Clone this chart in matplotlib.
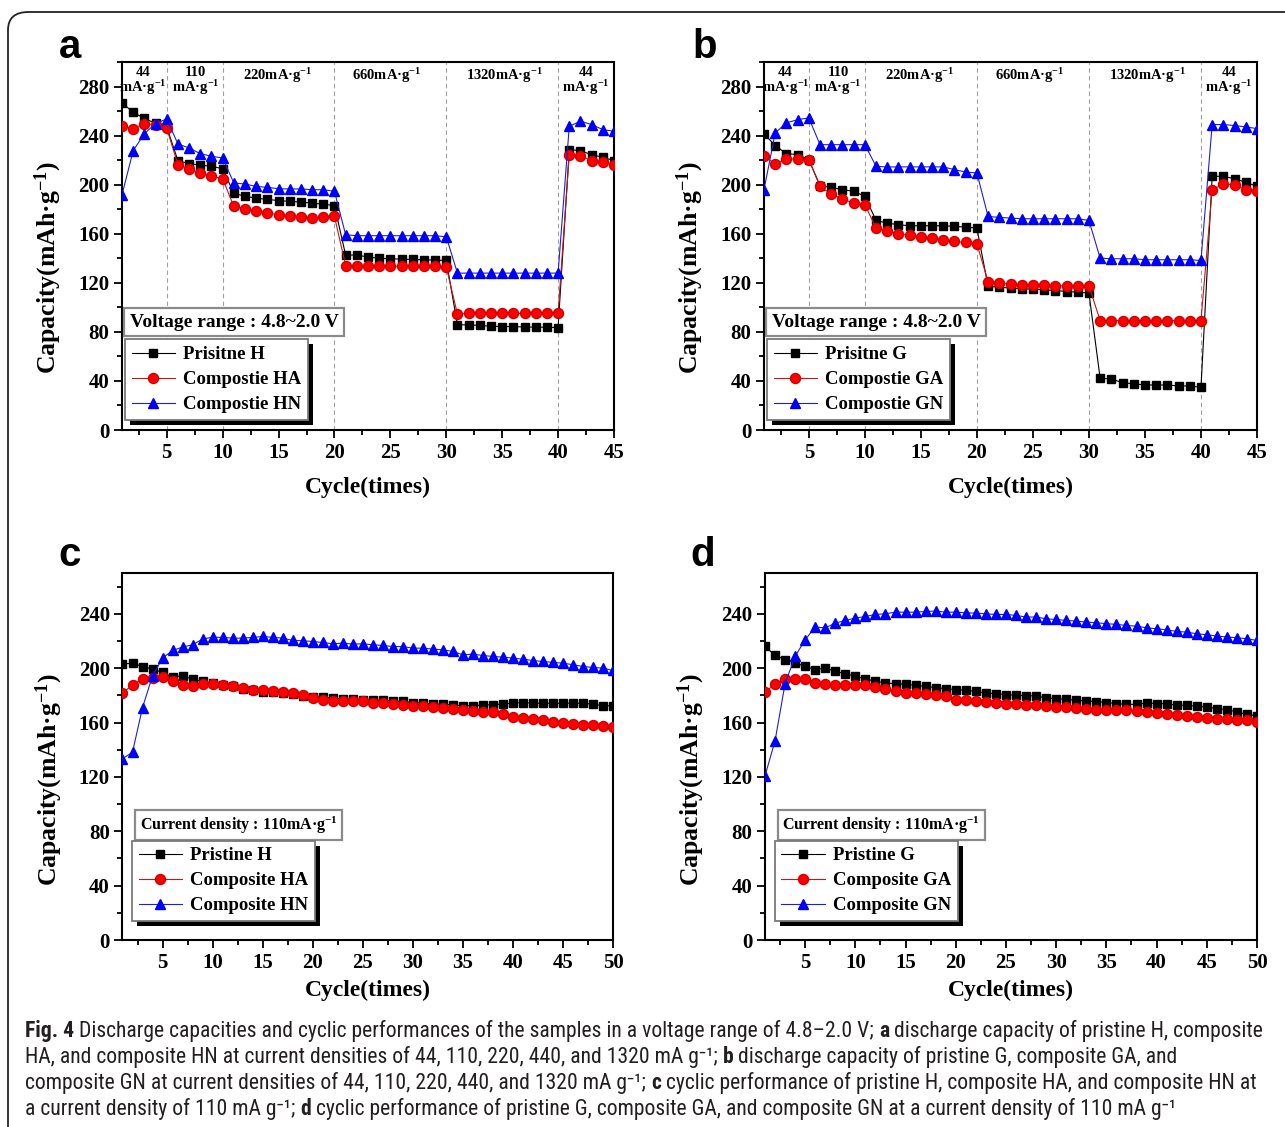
import numpy as np
import matplotlib
matplotlib.use("Agg")
import matplotlib.pyplot as plt
from matplotlib.ticker import MultipleLocator
from matplotlib.patches import FancyBboxPatch, Rectangle
from matplotlib import font_manager
import matplotlib.transforms as mtransforms

# ---------------- data ----------------
cycles_rate = list(range(1, 46))
cycles_life = list(range(1, 51))

a_pristine_H = [266.7, 259, 254, 250, 247,
                219.6, 217, 216, 215, 213,
                193, 190.5, 189, 188, 187, 186.4, 185.8, 185, 184, 183,
                142.6, 142.6, 141, 140, 139.6, 139.3, 139, 138.8, 138.5, 138.2,
                85.7, 85.7, 85.2, 84.6, 84.3, 84.3, 84, 83.8, 83.8, 83.5,
                228.6, 227.7, 224.5, 222.3, 219.6]
a_composite_HA = [247.6, 245.7, 249.8, 249, 246,
                  216.3, 212.8, 209.5, 206.8, 204.9,
                  182.3, 180.4, 178.8, 176.9, 175.5, 174.1, 173.3, 172.8, 173.6, 174.1,
                  134.1, 133.9, 133.3, 133.6, 133.6, 133.6, 133.6, 133.3, 133.3, 132.8,
                  94.4, 95, 95, 95, 95, 95, 95, 95, 95, 95,
                  224.5, 223.7, 219.6, 218.5, 216.3]
a_composite_HN = [191.8, 227.7, 241.6, 249.8, 253.6,
                  233.2, 229.9, 225.3, 223.1, 221.8,
                  201.4, 200.5, 198.6, 197.8, 196.7, 196.5, 196.5, 195.9, 195.9, 194.6,
                  159.2, 158.4, 158.4, 158.4, 158.4, 158.4, 158.4, 158.4, 158.4, 157.5,
                  127.9, 127.9, 127.9, 127.9, 127.9, 127.9, 127.9, 127.9, 127.9, 127.9,
                  247.6, 251.7, 249, 244.9, 243.5]

b_pristine_G = [241.6, 231.8, 225.3, 224.5, 220.4,
                199.2, 197.8, 195.9, 194.6, 190.5,
                170.9, 168.7, 167.3, 166.5, 166.5, 166.5, 166.5, 166, 165.4, 164.6,
                117, 116.5, 115.6, 115.1, 114.8, 114.3, 113.7, 112.9, 112.4, 111.6,
                42.2, 41.6, 38.6, 37.6, 36.7, 36.7, 36.7, 35.9, 35.9, 34.8,
                206.8, 206.8, 204.9, 201.9, 198.6]
b_composite_GA = [223.1, 217.1, 220.9, 220.9, 220.4,
                  198.6, 192.4, 188.3, 185, 183.7,
                  164.6, 162.4, 160, 158.6, 157.3, 156.5, 155.1, 153.7, 152.9, 151.8,
                  121, 119.7, 118.9, 118.4, 118.4, 117.8, 117.5, 117.5, 117.5, 117.5,
                  89.2, 89.2, 89.2, 89.2, 89.2, 89.2, 89.2, 89.2, 89.2, 89.2,
                  195.9, 200.5, 200, 195.9, 194.6]
b_composite_GN = [195.9, 242.2, 250.4, 253, 254.4,
                  232.6, 232.6, 232.6, 232.6, 232.6,
                  215, 214.4, 214.5, 214.5, 214.5, 214.5, 214.5, 212.2, 210.3, 209.5,
                  174.1, 173.3, 172.8, 172.2, 172.2, 172.2, 172.2, 172.2, 172.2, 170.9,
                  140.1, 139.6, 139.6, 139.6, 138.8, 138.8, 138.8, 138.8, 138.8, 138.2,
                  249, 249, 248.2, 247.1, 245.7]

c_pristine_H = [203, 203.7, 201.2, 199.3, 196.8, 193.4, 194.4, 191.9, 190.2, 189,
                187.7, 186.5, 184.5, 183.6, 182.8, 182.1, 181.6, 180.9, 179.6, 179.1,
                178.7, 177.9, 177.4, 177.2, 176.7, 176.7, 176.2, 175.9, 175.5, 174.7,
                174.2, 173.7, 173.5, 173, 172.3, 172.3, 173, 173, 173.7, 174.2,
                174.7, 174.2, 174.2, 174.2, 174.2, 174.2, 174.2, 173.5, 172.3, 172.3]
c_composite_HA = [181.6, 187.7, 191.9, 192.6, 193.4, 190.2, 187.7, 186.5, 188.5, 188.5,
                  187.7, 186.5, 185.3, 184, 183.6, 183.3, 182.8, 181.6, 180.4, 178.4,
                  176.7, 175.9, 175.9, 175.9, 175.5, 174.7, 174.2, 173.7, 173, 172.5,
                  171.8, 171.3, 170.6, 169.8, 169.3, 168.6, 168.1, 167.4, 166.1, 164.4,
                  163.2, 162.5, 161.5, 160.7, 159.5, 158.8, 158.3, 158.3, 157.5, 156.6]
c_composite_HN = [133.3, 138.2, 171, 194.4, 207.4, 213, 215.5, 217.2, 221.4, 222.8,
                  222.6, 222.1, 222.1, 222.6, 223.3, 222.6, 222.1, 220.4, 220.2, 219.6,
                  218.9, 217.9, 218.4, 217.7, 217.9, 217.2, 216.7, 215.9, 215.9, 214.7,
                  214.7, 214, 213.5, 212.3, 209.8, 210.3, 209.3, 208.6, 208.1, 207.4,
                  206.6, 205.6, 204.9, 204.2, 203.7, 202.5, 201.2, 200.5, 200, 198.3]

d_pristine_G = [216, 209.4, 206.3, 203.8, 201.3, 198.9, 200.1, 197.6, 195.9, 194,
                192.2, 190.3, 189.1, 188.6, 188.1, 187.4, 186.6, 185.6, 184.9, 184.2,
                183.7, 182.9, 181.7, 181.2, 180.5, 180, 179.8, 179.5, 178.1, 177.6,
                177.1, 176.4, 175.9, 175.4, 174.7, 173.9, 173.4, 173.4, 174.4, 173.9,
                173.9, 172.7, 172.7, 171.9, 171.4, 170.2, 169.5, 167.8, 166, 164.8]
d_composite_GA = [182.5, 188.1, 191.8, 192.3, 191.8, 189.1, 188.1, 187.4, 187.4, 187.4,
                  187.4, 186.1, 184.9, 182.9, 182, 182, 181.2, 180, 179.5, 176.8,
                  176.3, 175.6, 175.1, 174.4, 173.9, 173.4, 172.7, 172.7, 171.9, 171.4,
                  171.4, 170.7, 170.2, 169.5, 169.5, 169, 169, 168.5, 167.8, 167.1,
                  166.6, 165.8, 164.6, 164.1, 163.6, 162.9, 162.6, 162.1, 161.6, 160.4]
d_composite_GN = [120.7, 146.5, 188.6, 208.7, 220.9, 230.2, 229.7, 233.1, 235.1, 236.8,
                  238, 239.5, 240, 241.2, 241.2, 241.2, 241.7, 242, 241.2, 241.2,
                  240.7, 240.5, 240, 239.5, 239.5, 238.8, 237.6, 237.6, 236.3, 235.8,
                  235.1, 234.6, 233.9, 233.4, 232.7, 232.2, 231.4, 230.9, 229.7, 229,
                  228.2, 227, 226.5, 225.3, 224.6, 223.6, 222.9, 222.4, 221.6, 220.4]

rate_boundaries = [5, 10, 20, 30, 40]
rate_labels = ["44\nmA·g$^{-1}$", "110\nmA·g$^{-1}$", "220mA·g$^{-1}$",
               "660mA·g$^{-1}$", "1320mA·g$^{-1}$", "44\nmA·g$^{-1}$"]
rate_label_x = [2.9, 7.6, 14.9, 24.7, 35.2, 42.5]

labels_a = ["Prisitne H", "Compostie HA", "Compostie HN"]
labels_b = ["Prisitne G", "Compostie GA", "Compostie GN"]
labels_c = ["Pristine H", "Composite HA", "Composite HN"]
labels_d = ["Pristine G", "Composite GA", "Composite GN"]

# ---------------- style ----------------
SERIF = "Liberation Serif"
plt.rcParams["font.family"] = [SERIF, "DejaVu Serif"]
plt.rcParams["font.weight"] = "bold"
plt.rcParams["mathtext.fontset"] = "custom"
plt.rcParams["mathtext.rm"] = "Liberation Serif:bold"
plt.rcParams["mathtext.bf"] = "Liberation Serif:bold"
plt.rcParams["mathtext.it"] = "Liberation Serif:bold"
plt.rcParams["axes.unicode_minus"] = True


def pick_font(cands, default):
    for c in cands:
        try:
            font_manager.findfont(c, fallback_to_default=False)
            return c
        except Exception:
            pass
    return default


CAP_FONT = pick_font(["Liberation Sans Narrow", "Roboto Condensed", "Open Sans Condensed"], "Liberation Sans")

W, H = 1285, 1127
fig = plt.figure(figsize=(W / 100, H / 100), dpi=100)
fig.patch.set_facecolor("white")

border = FancyBboxPatch((8 / W, -0.05), 1.2, (H - 12) / H + 0.05,
                        boxstyle="round,pad=0,rounding_size=0.016",
                        transform=fig.transFigure, fc="none", ec="#222222",
                        lw=1.3, clip_on=False)
fig.add_artist(border)


def rect(l, r, t, b):
    return [l / W, 1 - b / H, (r - l) / W, (b - t) / H]


axA = fig.add_axes(rect(122, 614, 62, 430))
axB = fig.add_axes(rect(764, 1257, 62, 430))
axC = fig.add_axes(rect(122.5, 613, 573, 940))
axD = fig.add_axes(rect(765, 1257, 573, 940))

series_style = [
    dict(marker="s", color="black", mfc="black", mec="black", ms=6.2, lw=0.8),
    dict(marker="o", color="#c01818", mfc="#ff0000", mec="#d00000", ms=7.2, lw=0.8),
    dict(marker="^", color="#2020d0", mfc="#0000ff", mec="#0000ee", ms=7.8, lw=0.8),
]


def style_axes(ax, xmax, ymax, ylabel_y):
    ax.set_xlim(1, xmax)
    ax.set_ylim(0, ymax)
    ax.xaxis.set_major_locator(MultipleLocator(5))
    ax.xaxis.set_minor_locator(MultipleLocator(2.5))
    ax.yaxis.set_major_locator(MultipleLocator(40))
    ax.yaxis.set_minor_locator(MultipleLocator(20))
    ax.tick_params(which="both", direction="out", top=False, right=False,
                   width=1.3, labelsize=15, pad=3)
    ax.tick_params(which="major", length=6)
    ax.tick_params(which="minor", length=3.5)
    for s in ax.spines.values():
        s.set_linewidth(1.5)
    ax.set_xticks([t for t in range(5, xmax + 1, 5)])
    ax.set_xlabel("Cycle(times)", fontsize=17, fontweight="bold")
    ax.set_ylabel("Capacity(mAh·g$^{-1}$)", fontsize=18.5, fontweight="bold")
    ax.xaxis.label.set_va("center")
    ax.yaxis.label.set_va("center")
    ax.yaxis.set_label_coords(-0.15, ylabel_y)


legends = []


def draw(ax, x, ys, labels, leg_anchor):
    handles = []
    for y, st, lab in zip(ys, series_style, labels):
        h, = ax.plot(x, y, label=lab, zorder=3, **st)
        handles.append(h)
    leg = ax.legend(handles=handles, loc="lower left", bbox_to_anchor=leg_anchor,
                    borderaxespad=0, frameon=True, fancybox=False, shadow=False,
                    framealpha=1.0,
                    prop=dict(family=SERIF, weight="bold", size=13.5),
                    handlelength=2.3, handletextpad=0.45, labelspacing=0.42,
                    borderpad=0.35, markerscale=1.0)
    leg.get_frame().set_edgecolor("#7a7a7a")
    leg.get_frame().set_facecolor("white")
    leg.get_frame().set_linewidth(1.3)
    leg.set_zorder(6)
    legends.append((ax, leg))
    return leg


def info_box(ax, x, y, text, size):
    ax.text(x, y, text, transform=ax.transAxes, ha="left", va="center",
            fontsize=size, fontweight="bold", zorder=5,
            bbox=dict(boxstyle="square,pad=0.28", fc="white", ec="#8a8a8a", lw=1.6))


# panel a / b : rate capability
for ax, ys, labels in [(axA, [a_pristine_H, a_composite_HA, a_composite_HN], labels_a),
                       (axB, [b_pristine_G, b_composite_GA, b_composite_GN], labels_b)]:
    style_axes(ax, 45, 300, 0.44)
    ax.xaxis.set_label_coords(0.5, -0.155)
    for xb in rate_boundaries:
        ax.axvline(xb, color="#a0a0a0", lw=0.8, ls=(0, (4, 3)), zorder=1)
    trans = mtransforms.blended_transform_factory(ax.transData, ax.transAxes)
    for lx, lt in zip(rate_label_x, rate_labels):
        ax.text(lx, 0.988, lt, transform=trans, ha="center", va="top",
                fontsize=10.5, fontweight="bold", linespacing=0.9, zorder=4)
    draw(ax, cycles_rate, ys, labels, (0.006, 0.028))
    info_box(ax, 0.016, 0.293, "Voltage range : 4.8~2.0 V", 14)

# panel c / d : cycling
for ax, ys, labels in [(axC, [c_pristine_H, c_composite_HA, c_composite_HN], labels_c),
                       (axD, [d_pristine_G, d_composite_GA, d_composite_GN], labels_d)]:
    style_axes(ax, 50, 270, 0.436)
    ax.xaxis.set_label_coords(0.5, -0.137)
    draw(ax, cycles_life, ys, labels, (0.02, 0.052))
    info_box(ax, 0.035, 0.3125, "Current density : 110mA·g$^{-1}$", 11.5)

# panel letters
for lt, px, py in [("a", 70, 47), ("b", 705, 47), ("c", 70, 555), ("d", 703, 555)]:
    fig.text(px / W, 1 - py / H, lt, ha="center", va="center", fontsize=29,
             fontweight="bold", family=["Liberation Sans", "DejaVu Sans"])

# ---------------- caption ----------------
caption_lines = [
    [("Fig. 4", True), (" Discharge capacities and cyclic performances of the samples in a voltage range of 4.8–2.0 V; ", False),
     ("a", True), (" discharge capacity of pristine H, composite", False)],
    [("HA, and composite HN at current densities of 44, 110, 220, 440, and 1320 mA g⁻¹; ", False),
     ("b", True), (" discharge capacity of pristine G, composite GA, and", False)],
    [("composite GN at current densities of 44, 110, 220, 440, and 1320 mA g⁻¹; ", False),
     ("c", True), (" cyclic performance of pristine H, composite HA, and composite HN at", False)],
    [("a current density of 110 mA g⁻¹; ", False), ("d", True),
     (" cyclic performance of pristine G, composite GA, and composite GN at a current density of 110 mA g⁻¹", False)],
]
caption_y = [1031, 1057, 1083, 1109]
cap_size = 15.6
renderer = fig.canvas.get_renderer()


def text_w(s, bold):
    kw = dict(fontsize=cap_size, fontweight="bold" if bold else "normal",
              family=[CAP_FONT, "DejaVu Sans"])
    t = fig.text(0, 0, "|" + s + "|", **kw)
    w = t.get_window_extent(renderer).width
    t.remove()
    t2 = fig.text(0, 0, "||", **kw)
    w2 = t2.get_window_extent(renderer).width
    t2.remove()
    return w - w2


for runs, cy in zip(caption_lines, caption_y):
    x = 25.0
    for s, bold in runs:
        fig.text(x / W, 1 - cy / H, s, fontsize=cap_size,
                 fontweight="bold" if bold else "normal",
                 family=[CAP_FONT, "DejaVu Sans"], color="#231f20",
                 ha="left", va="center")
        x += text_w(s, bold)

# black drop shadow behind each legend box (offset right/down)
fig.canvas.draw()
for ax, leg in legends:
    bb = leg.get_frame().get_window_extent(renderer)
    sh = Rectangle((bb.x0 + 5, bb.y0 - 5), bb.width, bb.height, transform=None,
                   fc="black", ec="none", zorder=5.5, clip_on=False)
    ax.add_artist(sh)

fig.savefig("out.png", dpi=100, facecolor="white")
